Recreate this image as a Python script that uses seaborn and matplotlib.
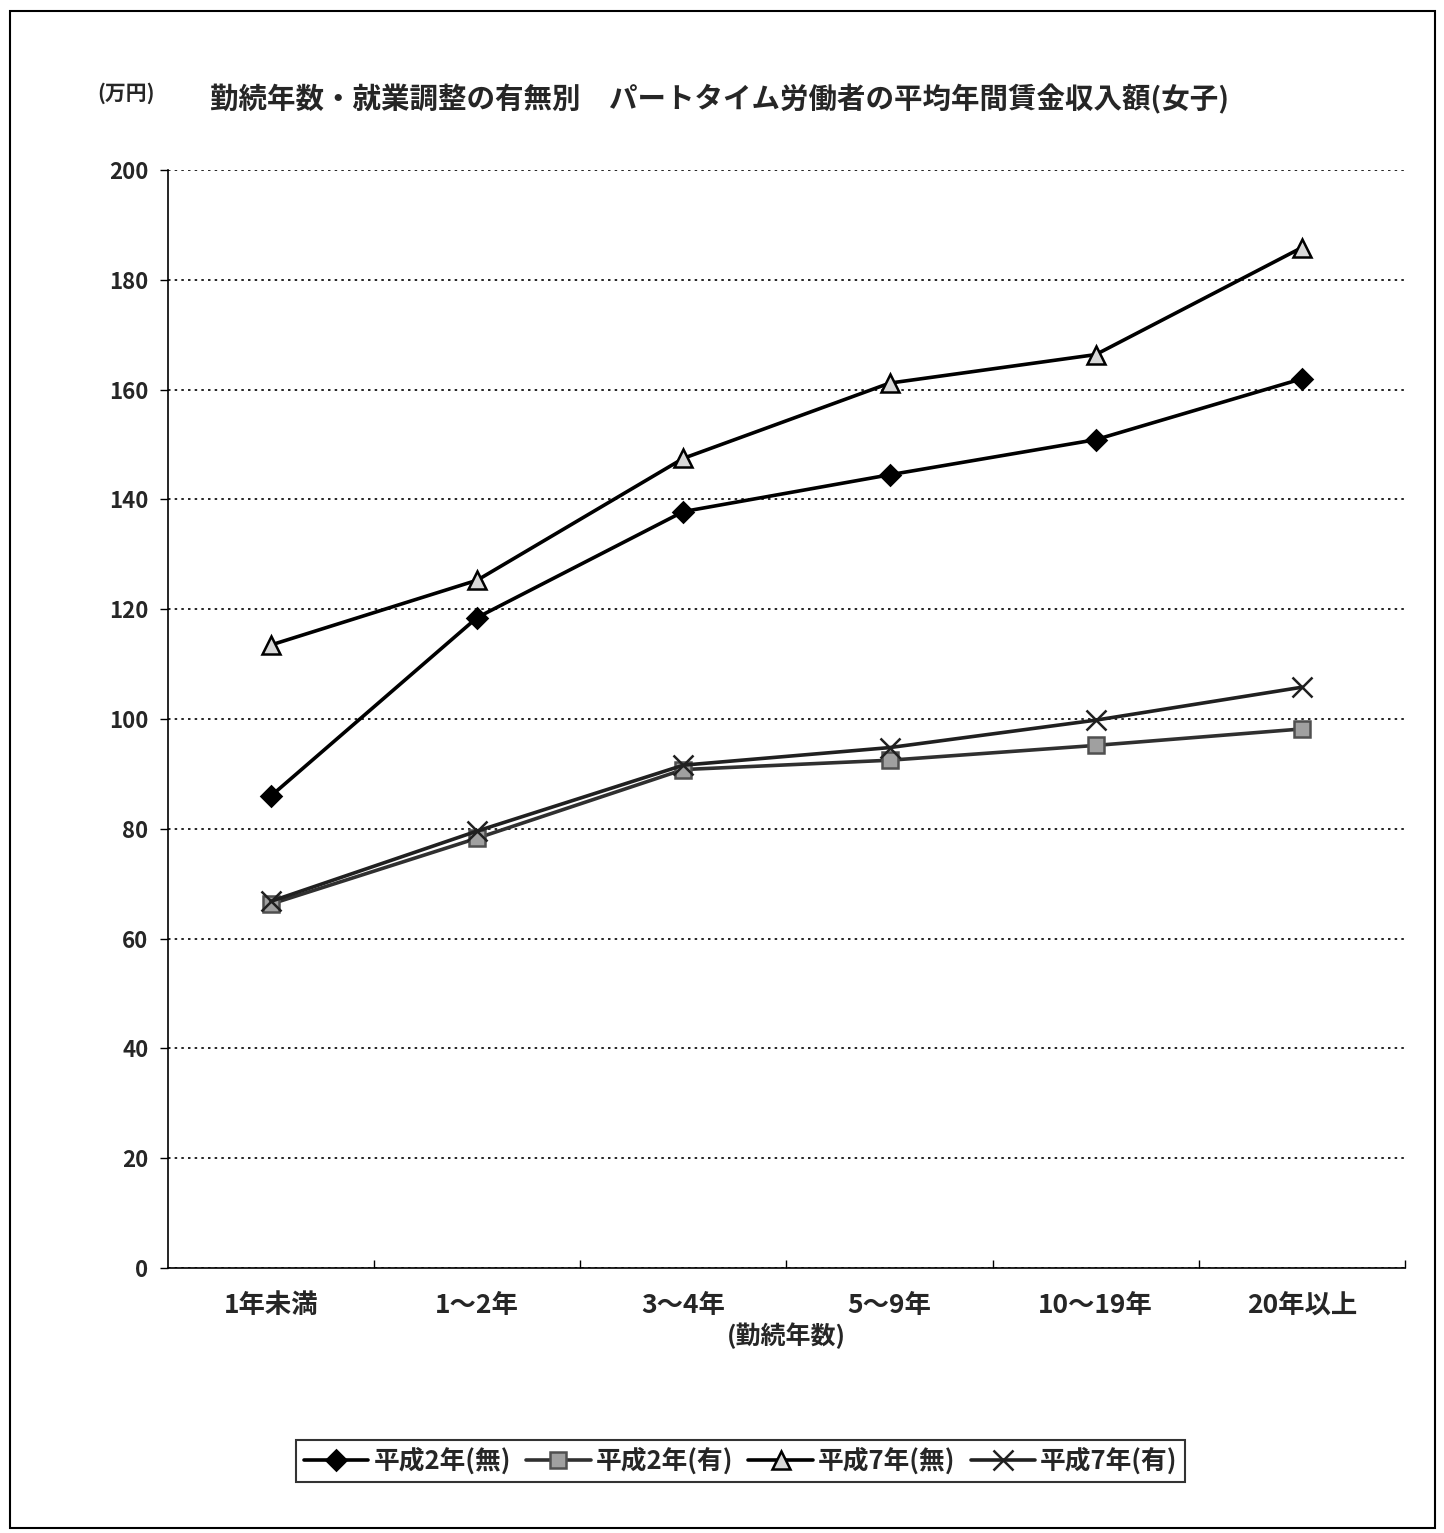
import matplotlib
matplotlib.use("Agg")
import matplotlib.pyplot as plt
import seaborn as sns
import pandas as pd
from matplotlib.patches import Rectangle
from matplotlib.ticker import FixedLocator

categories = ["1年未満", "1～2年", "3～4年", "5～9年", "10～19年", "20年以上"]
h2_mu = [86.0, 118.5, 137.8, 144.5, 150.9, 162.0]
h2_yu = [66.3, 78.3, 90.8, 92.5, 95.2, 98.2]
h7_mu = [113.5, 125.3, 147.5, 161.2, 166.4, 185.9]
h7_yu = [66.8, 79.6, 91.6, 94.8, 99.8, 105.8]
series_names = ["平成2年(無)", "平成2年(有)", "平成7年(無)", "平成7年(有)"]

sns.set_theme(style="white")
plt.rcParams["font.family"] = ["Noto Sans CJK JP", "DejaVu Sans"]

fig = plt.figure(figsize=(14.44, 15.33), dpi=100)
ax = fig.add_axes([0.1163, 0.1729, 0.9730 - 0.1163, 0.889 - 0.1729])

rows = []
for name, vals in zip(series_names, [h2_mu, h2_yu, h7_mu, h7_yu]):
    for i, v in enumerate(vals):
        rows.append({"cat": i, "value": v, "series": name})
df = pd.DataFrame(rows)

styles = {
    "平成2年(無)": dict(color="black", marker="D", mfc="black", mec="black", ms=10),
    "平成2年(有)": dict(color="#303030", marker="s", mfc="#a0a0a0", mec="#505050", ms=11),
    "平成7年(無)": dict(color="black", marker="^", mfc="#d8d8d8", mec="black", ms=13),
    "平成7年(有)": dict(color="#202020", marker="x", mfc="none", mec="#202020", ms=14),
}

for name in series_names:
    st = styles[name]
    sub = df[df["series"] == name]
    sns.lineplot(data=sub, x="cat", y="value", ax=ax, color=st["color"],
                 marker=st["marker"], markersize=st["ms"],
                 markerfacecolor=st["mfc"], markeredgecolor=st["mec"],
                 markeredgewidth=1.8, linewidth=2.6, label=name, legend=False)

ax.set_xlim(-0.5, 5.5)
ax.set_ylim(0, 200)
ax.set_yticks(range(0, 201, 20))
ax.set_xticks(range(len(categories)))
ax.set_xticklabels(categories, fontsize=19, fontweight="bold")
ax.tick_params(axis="x", which="major", length=0, pad=17)
ax.xaxis.set_minor_locator(FixedLocator([0.5, 1.5, 2.5, 3.5, 4.5, 5.5]))
ax.tick_params(axis="x", which="minor", length=6, width=1, color="black", direction="in", bottom=True)
ax.tick_params(axis="y", labelsize=16, length=6, width=1, color="black", left=True, pad=8)
for lab in ax.get_yticklabels():
    lab.set_fontweight("bold")
ax.set_xlabel("(勤続年数)", fontsize=18, fontweight="bold", labelpad=3)
ax.set_ylabel("")

ax.yaxis.grid(True, linestyle=(0, (1.5, 2.5)), color="black", linewidth=1.2)
ax.set_axisbelow(True)
for s in ["top", "right"]:
    ax.spines[s].set_visible(False)
for s in ["left", "bottom"]:
    ax.spines[s].set_color("black")
    ax.spines[s].set_linewidth(1.2)

fig.text(0.498, 0.935, "勤続年数・就業調整の有無別　パートタイム労働者の平均年間賃金収入額(女子)",
         ha="center", va="center", fontsize=20.5, fontweight="bold")
fig.text(0.087, 0.939, "(万円)", ha="center", va="center", fontsize=15, fontweight="bold")

handles, labels = ax.get_legend_handles_labels()
leg = fig.legend(handles, labels, loc="center", bbox_to_anchor=(0.513, 0.047), ncol=4,
                 frameon=True, fancybox=False, edgecolor="black", fontsize=18.5,
                 handlelength=2.5, handletextpad=0.2, columnspacing=0.6, borderpad=0.3)
leg.get_frame().set_linewidth(1.5)
for t in leg.get_texts():
    t.set_fontweight("bold")

fig.patches.append(Rectangle((0.007, 0.003), 0.987, 0.99, transform=fig.transFigure,
                             fill=False, edgecolor="black", linewidth=1.5))

fig.savefig("out.png", dpi=100, facecolor="white")
